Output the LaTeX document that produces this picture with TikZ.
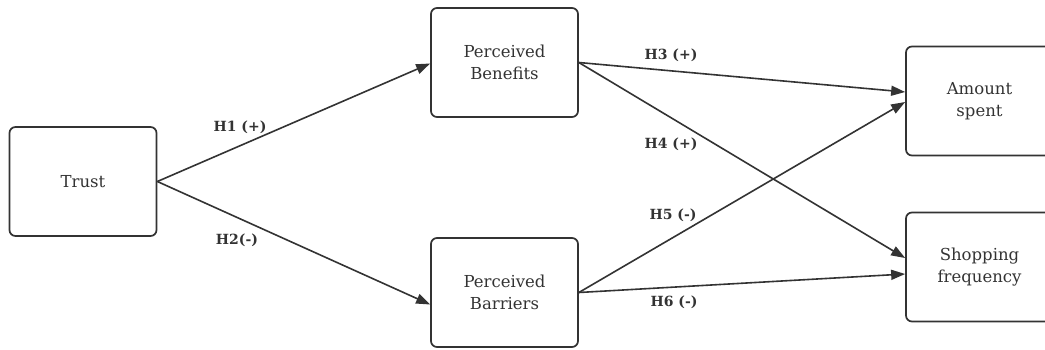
\documentclass[tikz,border=0pt]{standalone}
\usepackage{fontspec}
\setmainfont{DejaVu Serif}
\usetikzlibrary{arrows.meta,calc}
\definecolor{ink}{HTML}{333333}
\begin{document}
\begin{tikzpicture}[x=1pt,y=-1pt,
  box/.style={draw=ink,line width=1.7pt,rounded corners=6pt,minimum width=147pt,minimum height=109pt,
    align=center,text=ink,font=\fontsize{16.5}{22}\selectfont,inner sep=0pt},
  link/.style={draw=ink,line width=1.6pt,-{Triangle[length=14pt,width=10pt]}},
  lab/.style={text=ink,font=\fontsize{14}{16}\selectfont\bfseries,inner sep=0pt}]
\useasboundingbox (0,0) rectangle (1045,349);
\clip (0,0) rectangle (1045,349);
\node[box] (trust) at (83,181.5) {Trust};
\node[box] (ben) at (504.5,62.5) {Perceived\\Benefits};
\node[box] (bar) at (504.5,292.5) {Perceived\\Barriers};
\node[box] (amt) at (979.5,101) {Amount\\spent};
\node[box] (shop) at (979.5,267) {Shopping\\frequency};
\draw[link] (trust.east) -- ($(ben.west)+(0,1)$);
\draw[link] (trust.east) -- ($(bar.west)+(0,12)$);
\draw[link] (ben.east) -- ($(amt.west)+(0,-9)$);
\draw[link] (ben.east) -- ($(shop.west)+(0,-9)$);
\draw[link] (bar.east) -- ($(amt.west)+(0,1)$);
\draw[link] (bar.east) -- ($(shop.west)+(0,7)$);
\node[lab] (l1) at (240,127) {H1 (+)};
\node[lab] (l2) at (237,240) {H2(-)};
\node[lab] (l3) at (671,55) {H3 (+)};
\node[lab] (l4) at (671,144) {H4 (+)};
\node[lab] (l5) at (673,215) {H5 (-)};
\node[lab] (l6) at (674,302) {H6 (-)};
\end{tikzpicture}
\end{document}
